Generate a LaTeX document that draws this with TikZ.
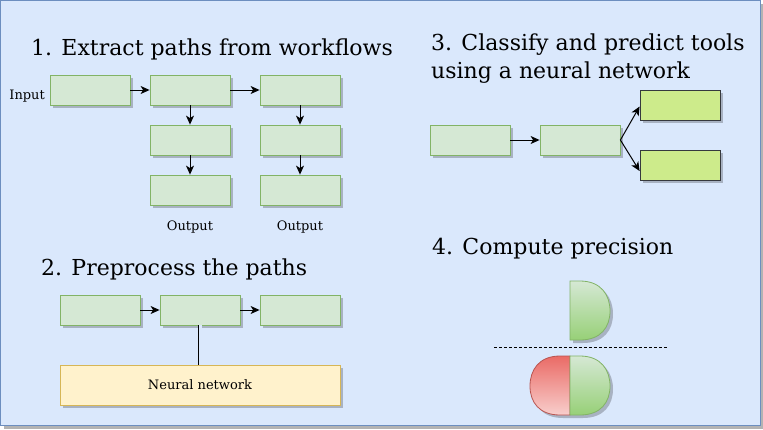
\documentclass[tikz,border=0pt]{standalone}
\usepackage{fontspec}
\setmainfont{DejaVu Serif}
\usepackage{xcolor}
\usetikzlibrary{arrows.meta,shadows}

\definecolor{bgfill}{HTML}{DAE8FC}
\definecolor{bgline}{HTML}{6C8EBF}
\definecolor{bgshade}{HTML}{B3B3B3}
\definecolor{boxfill}{HTML}{D5E8D4}
\definecolor{boxline}{HTML}{82B366}
\definecolor{limefill}{HTML}{CDEB8B}
\definecolor{limeline}{HTML}{36393D}
\definecolor{nnfill}{HTML}{FFF2CC}
\definecolor{nnline}{HTML}{D6B656}
\definecolor{boxshade}{HTML}{A8B2C2}
\definecolor{redfill}{HTML}{EA6B66}
\definecolor{redlight}{HTML}{F8CECC}
\definecolor{redline}{HTML}{B85450}
\definecolor{greendark}{HTML}{97D077}

\begin{document}
\begin{tikzpicture}[x=1pt,y=-1pt,
	dshadow/.style={drop shadow={shadow xshift=3pt,shadow yshift=-3pt,fill=boxshade,opacity=1}},
	box/.style={draw=boxline,fill=boxfill,line width=0.8pt,minimum width=80pt,minimum height=30pt,inner sep=0pt,dshadow},
	lime/.style={box,draw=limeline,fill=limefill},
	arr/.style={-{Stealth[length=9pt,width=8pt,inset=2.5pt]},line width=1pt},
	head/.style={anchor=base west,inner sep=0pt,font=\fontsize{22}{28}\selectfont},
	small/.style={inner sep=0pt,font=\fontsize{13}{15}\selectfont}]
	\useasboundingbox (0,0) rectangle (763,429);
	% background
	\fill[bgshade] (4,4) rectangle (763,429);
	\draw[bgline,fill=bgfill,line width=1pt] (0.5,0.5) rectangle (760,425);
	
	% 1. extract paths
	\node[head] (h1) at (31,55) {1. Extract paths from workflows};
	\node[box] (a) at (90,90) {};
	\node[box] (b) at (190,90) {};
	\node[box] (c) at (300,90) {};
	\node[box] (b2) at (190,140) {};
	\node[box] (b3) at (190,190) {};
	\node[box] (c2) at (300,140) {};
	\node[box] (c3) at (300,190) {};
	\node[small,anchor=east] (in) at (45,96) {Input};
	\node[small] (out1) at (190,227) {Output};
	\node[small] (out2) at (300,227) {Output};
	\draw[arr] (a) -- (b);
	\draw[arr] (b) -- (c);
	\draw[arr] (b) -- (b2);
	\draw[arr] (b2) -- (b3);
	\draw[arr] (c) -- (c2);
	\draw[arr] (c2) -- (c3);
	
	% 2. preprocess
	\node[head] (h2) at (41,275) {2. Preprocess the paths};
	\node[box] (p1) at (100,310) {};
	\node[box] (p2) at (200,310) {};
	\node[box] (p3) at (300,310) {};
	\node[box,draw=nnline,fill=nnfill,minimum width=280pt,minimum height=40pt] (nn) at (200,385) {};
	\node[small] (nnt) at (200,385) {Neural network};
	\draw[arr] (p1) -- (p2);
	\draw[arr] (p2) -- (p3);
	\draw[double=bgfill,double distance=3pt,line width=0.8pt] (p2) -- (nn);
	
	% 3. classify
	\node[head,anchor=north west,align=left] (h3) at (431,34) {3. Classify and predict tools\\using a neural network};
	\node[box] (d) at (470,140) {};
	\node[box] (e) at (580,140) {};
	\node[lime] (f) at (680,105) {};
	\node[lime] (g) at (680,165) {};
	\draw[arr] (d) -- (e);
	\draw[arr] (e.east) -- ([yshift=-1.5pt]f.west);
	\draw[arr] (e.east) -- ([yshift=-6pt]g.west);
	
	% 4. precision
	\node[head] (h4) at (432,254) {4. Compute precision};
	\draw[boxline,top color=boxfill,bottom color=greendark,line width=0.8pt,dshadow]
		(570,281) -- (580,281) .. controls (601,281) and (610,295) .. (610,311)
		.. controls (610,327) and (601,340) .. (580,340) -- (570,340) -- cycle;
	\draw[dash pattern=on 3pt off 2pt,line width=0.8pt] (494,347) -- (668,347);
	\draw[redline,top color=redfill,bottom color=redlight,line width=0.8pt,dshadow]
		(570,356) -- (560,356) .. controls (539,356) and (530,370) .. (530,386)
		.. controls (530,402) and (539,415) .. (560,415) -- (570,415) -- cycle;
	\draw[boxline,top color=boxfill,bottom color=greendark,line width=0.8pt,dshadow]
		(570,356) -- (580,356) .. controls (601,356) and (610,370) .. (610,386)
		.. controls (610,402) and (601,415) .. (580,415) -- (570,415) -- cycle;
\end{tikzpicture}
\end{document}
